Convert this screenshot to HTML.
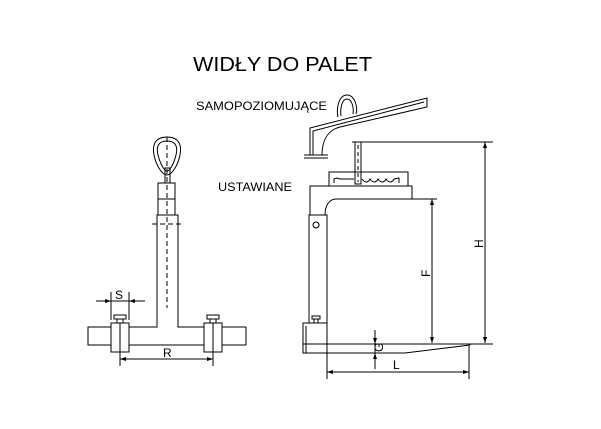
<!DOCTYPE html>
<html><head><meta charset="utf-8"><style>html,body{margin:0;padding:0;background:#fff}svg{display:block}</style></head>
<body>
<svg width="601" height="429" viewBox="0 0 601 429" xmlns="http://www.w3.org/2000/svg" font-family="Liberation Sans, sans-serif">
<rect width="601" height="429" fill="#fff"/>
<text x="193" y="71" font-size="20" textLength="179" lengthAdjust="spacingAndGlyphs">WIDŁY DO PALET</text>
<text x="196" y="110" font-size="12" textLength="131" lengthAdjust="spacingAndGlyphs">SAMOPOZIOMUJĄCE</text>
<text x="218" y="191" font-size="12" textLength="74" lengthAdjust="spacingAndGlyphs">USTAWIANE</text>
<g fill="none" stroke="#000" stroke-width="1">
<!-- left view -->
<path d="M167 137 C155 137 152 145 154 155 C156 165 162 175 167 175 C172 175 178 165 180 155 C182 145 179 137 167 137 Z"/>
<path d="M167 141 C158 141 156 147 158 155 C160 163 164 171 167 171 C170 171 174 163 176 155 C178 147 176 141 167 141 Z"/>
<rect x="165" y="168" width="5" height="15"/>
<rect x="158" y="183" width="17" height="32"/>
<line x1="158" y1="199" x2="175" y2="199"/>
<path d="M157 215 V327 H88 V345 H246 V327 H178 V215 Z"/>
<line x1="167" y1="137" x2="167" y2="308" stroke-dasharray="5,3"/>
<line x1="152" y1="224" x2="183" y2="224" stroke-dasharray="5,3"/>
<rect x="111" y="323" width="18" height="29" fill="#fff"/>
<line x1="120" y1="323" x2="120" y2="352"/>
<rect x="114" y="315" width="12" height="4"/><rect x="117" y="319" width="6" height="4"/>
<rect x="204" y="323" width="18" height="29" fill="#fff"/>
<line x1="213" y1="323" x2="213" y2="352"/>
<rect x="207" y="315" width="12" height="4"/><rect x="210" y="319" width="6" height="4"/>
<line x1="111" y1="292" x2="111" y2="320"/><line x1="129" y1="292" x2="129" y2="320"/>
<line x1="96" y1="301" x2="145" y2="301"/>
<line x1="120" y1="352" x2="120" y2="366"/><line x1="213" y1="352" x2="213" y2="366"/>
<line x1="120" y1="359" x2="213" y2="359"/>
<!-- right view: lifter arm -->
<path d="M338 117 C336 108 339 95 347 95 C355 95 358 108 356 114"/>
<path d="M341 116 C340 108 342 99 347 99 C352 99 354 108 353 114"/>
<path d="M310 155 V128 L427 98 V107 L340 127 C328 130 322 140 322 155"/>
<path d="M313 155 V131 L424 102"/>
<line x1="304" y1="155" x2="328" y2="155"/><line x1="304" y1="158" x2="328" y2="158"/>
<line x1="352" y1="142" x2="493" y2="142"/>
<rect x="355" y="142" width="6" height="42" fill="#fff"/>
<line x1="358" y1="145" x2="358" y2="182" stroke-dasharray="4,3"/>
<rect x="329" y="172" width="79" height="14"/>
<path d="M334 183 V179 l3 -1 3 1 H354 M362 179 c3 4 6 4 8 0 c3 4 6 4 8 0 c3 4 6 4 8 0 c3 4 6 4 8 0 l5 -1 V183"/>
<path d="M310 215 V186 H412 V199 H336 C329 199 325 206 325 215"/>
<line x1="412" y1="199" x2="437" y2="199"/>
<rect x="309" y="215" width="18" height="108"/>
<path d="M316 222 a3 3 0 1 0 0.1 0"/>
<rect x="312" y="316" width="8" height="3"/><rect x="314" y="319" width="4" height="4"/>
<rect x="303" y="323" width="24" height="30"/>
<line x1="306" y1="326" x2="306" y2="353"/>
<path d="M303 344 H493 M303 353 H405 L470 345 V344"/>
<line x1="327" y1="353" x2="327" y2="379"/><line x1="469" y1="346" x2="469" y2="379"/>
<line x1="327" y1="372" x2="469" y2="372"/>
<line x1="432" y1="199" x2="432" y2="343"/>
<line x1="485" y1="142" x2="485" y2="343"/>
<line x1="375" y1="330" x2="375" y2="369"/>
</g>
<g fill="#000">
<path d="M111 301 l-6 -2 v4 z M129 301 l6 -2 v4 z"/>
<path d="M120 359 l6 -2 v4 z M213 359 l-6 -2 v4 z"/>
<path d="M327 372 l6 -2 v4 z M469 372 l-6 -2 v4 z"/>
<path d="M432 199 l-2 6 h4 z M432 343 l-2 -6 h4 z"/>
<path d="M485 142 l-2 6 h4 z M485 343 l-2 -6 h4 z"/>
<path d="M375 344 l-2 -6 h4 z M375 353 l-2 6 h4 z"/>
</g>
<g font-size="12">
<text x="115" y="299">S</text>
<text x="163" y="357">R</text>
<text x="393" y="369">L</text>
<text transform="translate(430,277) rotate(-90)">F</text>
<text transform="translate(483,248) rotate(-90)">H</text>
<text transform="translate(383,352) rotate(-90)">G</text>
</g>
</svg>
</body></html>
